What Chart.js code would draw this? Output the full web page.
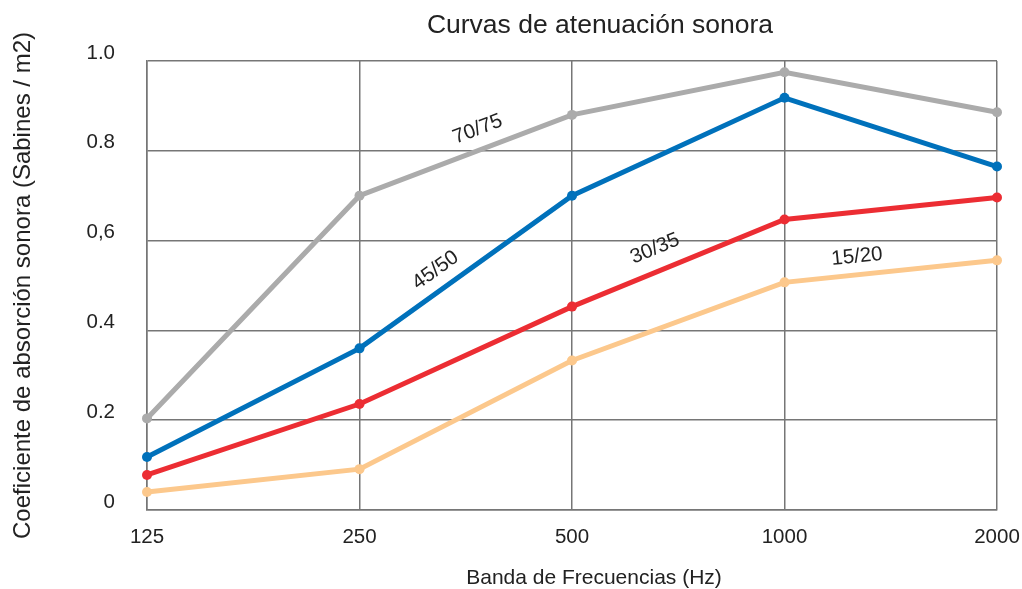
<!DOCTYPE html>
<html>
<head>
<meta charset="utf-8">
<style>
  html, body { margin: 0; padding: 0; background: #fff; }
  #wrap { width: 1022px; height: 589px; }
</style>
</head>
<body>
<div id="wrap"><canvas id="lineChart"></canvas></div>
<script src="https://cdn.jsdelivr.net/npm/chart.js@4/dist/chart.umd.min.js"></script>
<script>
// chart data
const frecuencias = ["125", "250", "500", "1000", "2000"];
const yTicks = ["0", "0.2", "0.4", "0,6", "0.8", "1.0"];

const serie7075 = [0.204, 0.70, 0.88, 0.975, 0.886];
const serie4550 = [0.118, 0.36, 0.70, 0.918, 0.765];
const serie3035 = [0.078, 0.236, 0.453, 0.647, 0.696];
const serie1520 = [0.04, 0.091, 0.333, 0.507, 0.556];

const etiquetas = ["70/75", "45/50", "30/35", "15/20"];

const FONT = "'Liberation Sans', Arial, sans-serif";

// textos sobre las curvas + titulos
const textosPlugin = {
  id: "textos",
  afterDatasetsDraw(chart, args, opts) {
    const c = chart.ctx;
    const area = chart.chartArea;
    c.save();
    c.fillStyle = "#222";
    c.font = "20.5px " + FONT;
    c.textAlign = "center";
    c.textBaseline = "middle";
    opts.labels.forEach((l, i) => {
      const pts = chart.getDatasetMeta(i).data;
      const a = pts[l.seg], b = pts[l.seg + 1];
      const x = a.x + (b.x - a.x) * l.t;
      const y = a.y + (b.y - a.y) * l.t;
      const ang = Math.atan2(b.y - a.y, b.x - a.x);
      c.save();
      c.translate(x + Math.sin(ang) * l.off, y - Math.cos(ang) * l.off);
      c.rotate(ang);
      c.fillText(etiquetas[i], 0, 0);
      c.restore();
    });

    c.textBaseline = "alphabetic";
    c.font = "26.5px " + FONT;
    c.fillText("Curvas de atenuación sonora", (area.left + area.right) / 2 + 28, 33);
    c.font = "21px " + FONT;
    c.fillText("Banda de Frecuencias (Hz)", (area.left + area.right) / 2 + 22, 584);
    c.restore();
  },
};

const serie = (data, color) => ({
  data: data,
  borderColor: color,
  backgroundColor: color,
  borderWidth: 5,
  pointRadius: 5,
  pointBorderWidth: 0,
  pointBackgroundColor: color,
  tension: 0,
});

const ctx = document.getElementById("lineChart").getContext("2d");
const myChart = new Chart(ctx, {
  type: "line",
  data: {
    labels: frecuencias,
    datasets: [
      serie(serie7075, "#ababab"),
      serie(serie4550, "#0071bb"),
      serie(serie3035, "#ec2d33"),
      serie(serie1520, "#fcc88c"),
    ],
  },
  plugins: [textosPlugin],
  options: {
    responsive: true,
    maintainAspectRatio: false,
    animation: false,
    layout: {
      padding: { top: 61, right: 25, left: 0, bottom: 0 },
    },
    plugins: {
      legend: { display: false },
      tooltip: { enabled: false },
      textos: {
        labels: [
          { seg: 1, t: 0.59, off: 20 },
          { seg: 1, t: 0.41, off: 19 },
          { seg: 2, t: 0.43, off: 22 },
          { seg: 3, t: 0.35, off: 18 },
        ],
      },
    },
    scales: {
      x: {
        offset: false,
        grid: {
          color: "#767676",
          lineWidth: 1.5,
          drawTicks: false,
        },
        border: { color: "#767676", width: 1.5 },
        ticks: {
          color: "#222",
          font: { family: FONT, size: 20.5 },
          padding: 15,
          maxRotation: 0,
        },
        afterFit: (scale) => {
          scale.height = 79;
          scale.paddingLeft = 0;
          scale.paddingRight = 0;
        },
      },
      y: {
        min: 0,
        max: 1,
        grid: {
          color: "#767676",
          lineWidth: 1.5,
          drawTicks: false,
        },
        border: { color: "#767676", width: 1.5 },
        ticks: {
          stepSize: 0.2,
          color: "#222",
          font: { family: FONT, size: 20.5 },
          padding: 32,
          labelOffset: -8,
          callback: (v, i) => yTicks[i],
        },
        title: {
          display: true,
          text: "Coeficiente de absorción sonora (Sabines / m2)",
          color: "#222",
          font: { family: FONT, size: 24 },
          padding: { top: 9, bottom: 0 },
        },
        afterFit: (scale) => {
          scale.width = 147;
        },
      },
    },
  },
});
</script>
</body>
</html>
